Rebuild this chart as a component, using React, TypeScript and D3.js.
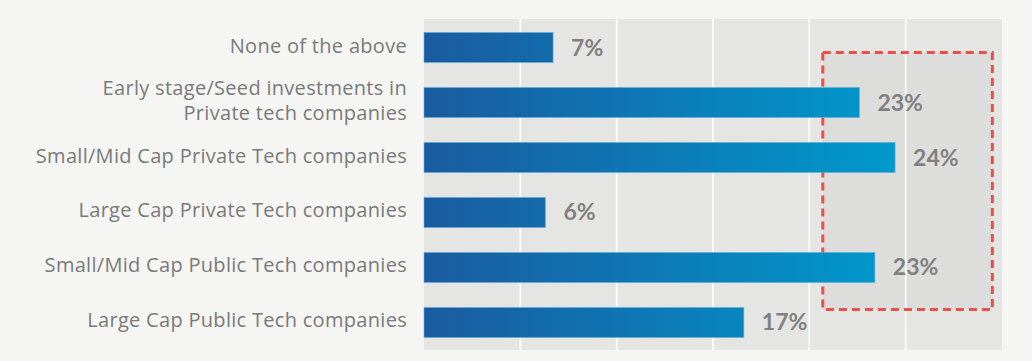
import React from "react";
import * as d3 from "d3";

const categories = [
  ["None of the above"],
  ["Early stage/Seed investments in", "Private tech companies"],
  ["Small/Mid Cap Private Tech companies"],
  ["Large Cap Private Tech companies"],
  ["Small/Mid Cap Public Tech companies"],
  ["Large Cap Public Tech companies"],
];
const values = [6.7, 22.6, 24.45, 6.3, 23.4, 16.6];
const xTicks = [0, 5, 10, 15, 20, 25, 30];
const highlightRange = [20.7, 29.5];

const W = 1032;
const H = 361;

export default function App() {
  const keys = categories.map((c) => c.join(" "));
  const x = d3.scaleLinear().domain([0, 30]).range([424, 1002]);
  const y = d3
    .scaleBand<string>()
    .domain(keys)
    .range([20, 350])
    .paddingInner(0.4545)
    .paddingOuter(0.2273);
  const bw = y.bandwidth();
  const maxV = d3.max(values) as number;
  const boxTop = (y(keys[0]) as number) + bw / 2 + 5;
  const boxBottom = (y(keys[keys.length - 1]) as number) + 2;

  return (
    <svg
      width={W}
      height={H}
      style={{ position: "fixed", left: 0, top: 0, display: "block" }}
    >
      <defs>
        <linearGradient
          id="barGrad"
          gradientUnits="userSpaceOnUse"
          x1={x(0)}
          x2={x(maxV)}
          y1={0}
          y2={0}
        >
          <stop offset="0%" stopColor="#1a5b9f" />
          <stop offset="100%" stopColor="#0099cc" />
        </linearGradient>
      </defs>
      <rect x={0} y={0} width={W} height={H} fill="#f5f5f3" />
      <rect
        x={x(0)}
        y={19}
        width={x(30) - x(0)}
        height={331}
        fill="#e5e5e3"
      />
      <rect
        x={x(highlightRange[0])}
        y={boxTop}
        width={x(highlightRange[1]) - x(highlightRange[0])}
        height={boxBottom - boxTop}
        fill="#dddddc"
      />
      {xTicks.slice(1, -1).map((t) => (
        <line
          key={t}
          x1={x(t)}
          x2={x(t)}
          y1={19}
          y2={350}
          stroke="#ffffff"
          strokeWidth={1.6}
        />
      ))}
      <rect
        x={x(highlightRange[0])}
        y={boxTop}
        width={x(highlightRange[1]) - x(highlightRange[0])}
        height={boxBottom - boxTop}
        fill="none"
        stroke="#e8504a"
        strokeWidth={3}
        strokeDasharray="8 5"
      />
      {keys.map((k, i) => {
        const cy = (y(k) as number) + bw / 2;
        const lines = categories[i];
        return (
          <g key={k}>
            <rect
              x={x(0)}
              y={y(k)}
              width={x(values[i]) - x(0)}
              height={bw}
              fill="url(#barGrad)"
              stroke="#5eaedb"
              strokeOpacity={0.6}
              strokeWidth={1}
            />
            <text
              x={x(values[i]) + 18}
              y={cy + 8}
              fill="#808080"
              fontFamily="Lato, sans-serif"
              fontWeight={700}
              fontSize={23}
            >
              {Math.round(values[i])}%
            </text>
            {lines.map((ln, j) => (
              <text
                key={j}
                x={407}
                y={cy + 5 + (j - (lines.length - 1) / 2) * 24.5}
                textAnchor="end"
                fill="#7a7a7a"
                fontFamily="'Open Sans', sans-serif"
                fontSize={20}
                letterSpacing={0.3}
              >
                {ln}
              </text>
            ))}
          </g>
        );
      })}
    </svg>
  );
}
